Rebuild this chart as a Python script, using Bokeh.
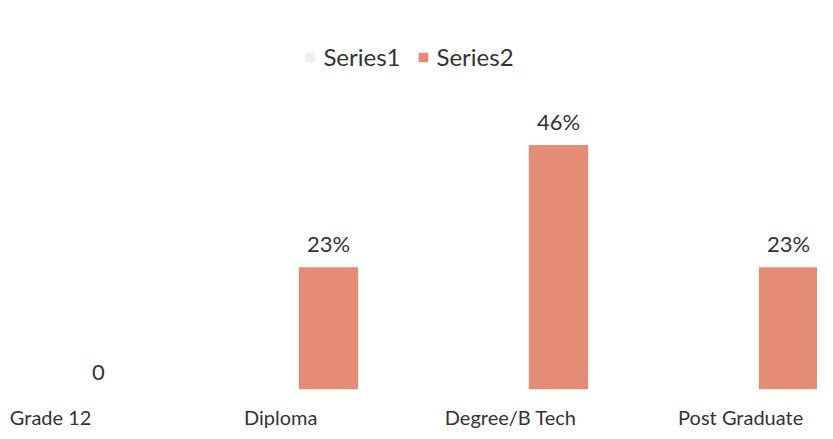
from bokeh.plotting import figure
from bokeh.models import Range1d, FixedTicker, ColumnDataSource, LabelSet, Legend, LegendItem
from bokeh.core.properties import value
from bokeh.embed import file_html
from bokeh.resources import INLINE

categories = ["Grade 12", "Diploma", "Degree/B Tech", "Post Graduate"]
series1 = [0, 0, 0, 0]
series2 = [0, 23, 46, 23]
series2_labels = ["0", "23%", "46%", "23%"]

FONT = "Lato"
pos = list(range(len(categories)))
src2 = ColumnDataSource(dict(x=[i + 0.208 for i in pos], y=series2, lab=series2_labels))
src1 = ColumnDataSource(dict(x=[i - 0.208 for i in pos], y=series1))

p = figure(width=817, height=431, output_backend="svg", toolbar_location=None,
           x_range=Range1d(-0.218, 3.334), y_range=Range1d(0, 73.2),
           min_border_left=0, min_border_right=0, min_border_top=0, min_border_bottom=20)
p.outline_line_color = None
p.grid.visible = False
p.yaxis.visible = False
p.background_fill_color = "white"
p.border_fill_color = "white"

r1 = p.vbar(x="x", top="y", width=0.258, source=src1, fill_color="#F6ECEE", line_color=None)
r2 = p.vbar(x="x", top="y", width=0.258, source=src2, fill_color="#E58C77", line_color=None)

labels = LabelSet(x="x", y="y", text="lab", source=src2, text_align="center",
                  text_baseline="bottom", y_offset=10, text_font=value(FONT),
                  text_font_size="22px", text_color="#333333")
p.add_layout(labels)

xa = p.xaxis[0]
xa.ticker = FixedTicker(ticks=pos)
xa.major_label_overrides = {i: c for i, c in zip(pos, categories)}
xa.axis_line_color = None
xa.major_tick_line_color = None
xa.minor_tick_line_color = None
xa.major_tick_out = 0
xa.major_tick_in = 0
xa.major_label_standoff = 15
xa.major_label_text_font = FONT
xa.major_label_text_font_size = "20px"
xa.major_label_text_color = "#333333"

legend = Legend(items=[LegendItem(label="Series1", renderers=[r1]),
                       LegendItem(label="Series2", renderers=[r2])],
                orientation="horizontal", location="top_center",
                label_text_font=FONT, label_text_font_size="24px",
                label_text_color="#333333", glyph_width=12, glyph_height=12,
                border_line_color=None, background_fill_alpha=0,
                margin=42, spacing=16, label_standoff=8)
p.add_layout(legend)

open("out.html", "w").write(file_html(p, INLINE))
